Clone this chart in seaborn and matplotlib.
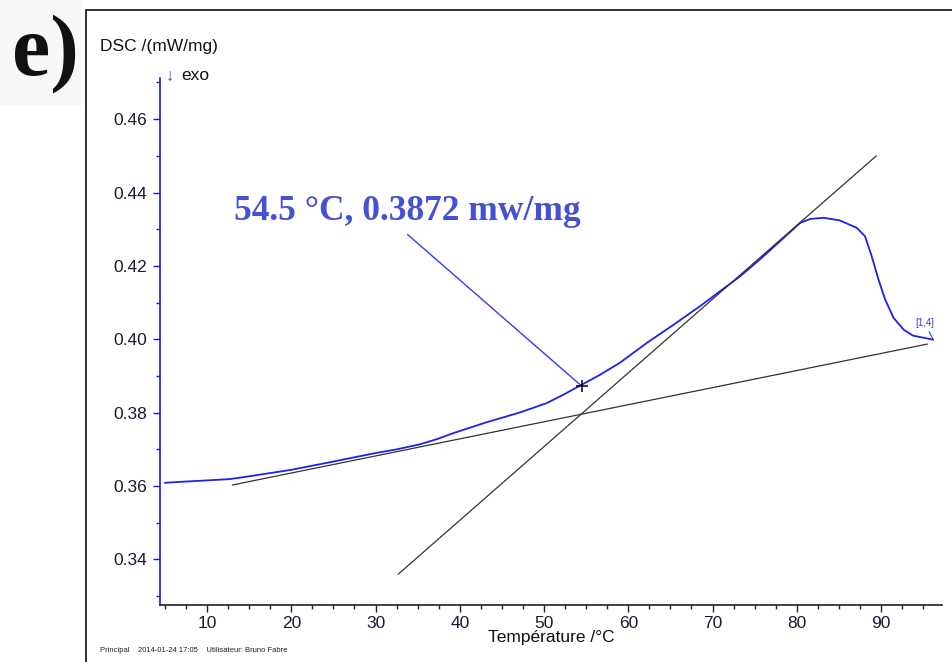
import matplotlib
matplotlib.use("Agg")
import matplotlib.pyplot as plt
import seaborn as sns
import pandas as pd
from matplotlib.patches import Rectangle
from matplotlib.ticker import MultipleLocator

# ---- data ----
temp = [5.0, 8.0, 10.4, 12.7, 15.1, 19.9, 24.6, 30.0, 32.5, 35.3, 37.3, 39.2,
        43.2, 47.2, 50.3, 52.3, 54.3, 56.7, 59.0, 62.2, 65.4, 68.5, 70.9, 73.3,
        75.6, 78.0, 80.4, 81.6, 83.2, 85.1, 87.1, 88.1, 88.9, 89.7, 90.5, 91.5,
        92.7, 93.8, 96.2]
dsc = [0.3609, 0.3613, 0.3616, 0.3619, 0.3627, 0.3644, 0.3665, 0.3690, 0.3700,
       0.3714, 0.3728, 0.3744, 0.3774, 0.3801, 0.3826, 0.3849, 0.3874, 0.3904,
       0.3936, 0.3990, 0.4040, 0.4090, 0.4131, 0.4172, 0.4217, 0.4267, 0.4317,
       0.4328, 0.4331, 0.4324, 0.4304, 0.4281, 0.4226, 0.4163, 0.4108, 0.4058,
       0.4026, 0.4010, 0.3999]

base_x = [13.0, 95.5]
base_y = [0.3603, 0.3987]
tan_x = [32.7, 89.45]
tan_y = [0.3360, 0.4500]

onset_t = 54.5
onset_v = 0.3872
onset_label = "54.5 °C, 0.3872 mw/mg"

x_ticks = [10, 20, 30, 40, 50, 60, 70, 80, 90]
y_ticks = [0.34, 0.36, 0.38, 0.40, 0.42, 0.44, 0.46]

sns.set_theme(style="white")
plt.rcParams['font.family'] = ['Liberation Sans', 'DejaVu Sans']

fig = plt.figure(figsize=(9.52, 6.62), dpi=100)
W, H = 952, 662

# background of the panel letter
fig.patches.append(Rectangle((0, 1 - 105 / H), 82 / W, 105 / H, transform=fig.transFigure,
                             facecolor='#f8f8f8', edgecolor='none', zorder=0))
# frame
fig.patches.append(Rectangle((86 / W, -0.01), 1.0, 1 - 10 / H + 0.01, transform=fig.transFigure,
                             facecolor='none', edgecolor='#222222', linewidth=1.3, zorder=1))

ax = fig.add_axes([160 / W, 57 / H, (942 - 160) / W, (605 - 78) / H])
ax.set_facecolor('none')

df = pd.DataFrame({"T": temp, "DSC": dsc})
sns.lineplot(data=df, x="T", y="DSC", ax=ax, color='#2020ee', linewidth=1.3, sort=False)
sns.lineplot(x=base_x, y=base_y, ax=ax, color='#333333', linewidth=0.9)
sns.lineplot(x=tan_x, y=tan_y, ax=ax, color='#333333', linewidth=0.9)

ax.set_xlim(4.42, 97.24)
ax.set_ylim(0.3276, 0.4712)
ax.set_xticks(x_ticks)
ax.set_yticks(y_ticks)
ax.set_yticklabels([f"{v:.2f}" for v in y_ticks])
ax.xaxis.set_minor_locator(MultipleLocator(2.5))
ax.yaxis.set_minor_locator(MultipleLocator(0.01))

for s in ['top', 'right']:
    ax.spines[s].set_visible(False)
ax.spines['left'].set_color('#1515ff')
ax.spines['left'].set_linewidth(1.2)
ax.spines['bottom'].set_color('#222222')
ax.spines['bottom'].set_linewidth(1.2)

ax.tick_params(axis='y', which='major', direction='out', length=5, width=1, color='#1515ff',
               labelsize=12.5, labelcolor='#1a1a33', left=True, pad=4)
ax.tick_params(axis='y', which='minor', direction='out', length=3, width=1, color='#1515ff', left=True)
ax.tick_params(axis='x', which='major', direction='out', length=5, width=1, color='#222222',
               labelsize=12.5, labelcolor='#1a1a33', bottom=True, pad=3)
ax.tick_params(axis='x', which='minor', direction='out', length=3, width=1, color='#222222', bottom=True)

ax.set_xlabel("Température /°C", fontsize=12.5, color='#111111', labelpad=-1)
ax.set_ylabel("")

# annotation
ax.plot([onset_t], [onset_v], marker='+', color='black', markersize=9, markeredgewidth=1.1, zorder=5)
ax.annotate(onset_label, xy=(onset_t, onset_v), xytext=(33.8, 0.4302),
            fontsize=25.5, fontweight='bold', family=['Liberation Serif', 'DejaVu Serif'],
            color='#4650d2', ha='center', va='bottom',
            arrowprops=dict(arrowstyle='-', color='#3a3af0', lw=1.0,
                            shrinkA=3, shrinkB=0, relpos=(0.48, 0.0)))
ax.annotate("[1,4]", xy=(96.2, 0.3999), xytext=(95.2, 0.4030), fontsize=7,
            color='#3a3af0', ha='center', va='bottom',
            arrowprops=dict(arrowstyle='-', color='#3a3af0', lw=0.8, shrinkA=0, shrinkB=0))

# texts
fig.text(100 / W, 1 - 47 / H, "DSC /(mW/mg)", fontsize=12.5, color='#111111', va='center', ha='left')
fig.text(166 / W, 1 - 76 / H, "↓", fontsize=12, color='#6a3a6a', va='center', ha='left')
fig.text(181 / W, 1 - 76 / H, "exo", fontsize=12.5, color='#111111', va='center', ha='left')
fig.text(12 / W, 1 - 54 / H, "e)", fontsize=62, fontweight='bold',
         family=['Liberation Serif', 'DejaVu Serif'], color='#111111', va='center', ha='left')
fig.text(100 / W, 1 - 650 / H, "Principal    2014-01-24 17:05    Utilisateur: Bruno Fabre",
         fontsize=5.5, color='#222222', va='center', ha='left')

fig.savefig("out.png", dpi=100, facecolor='white')
